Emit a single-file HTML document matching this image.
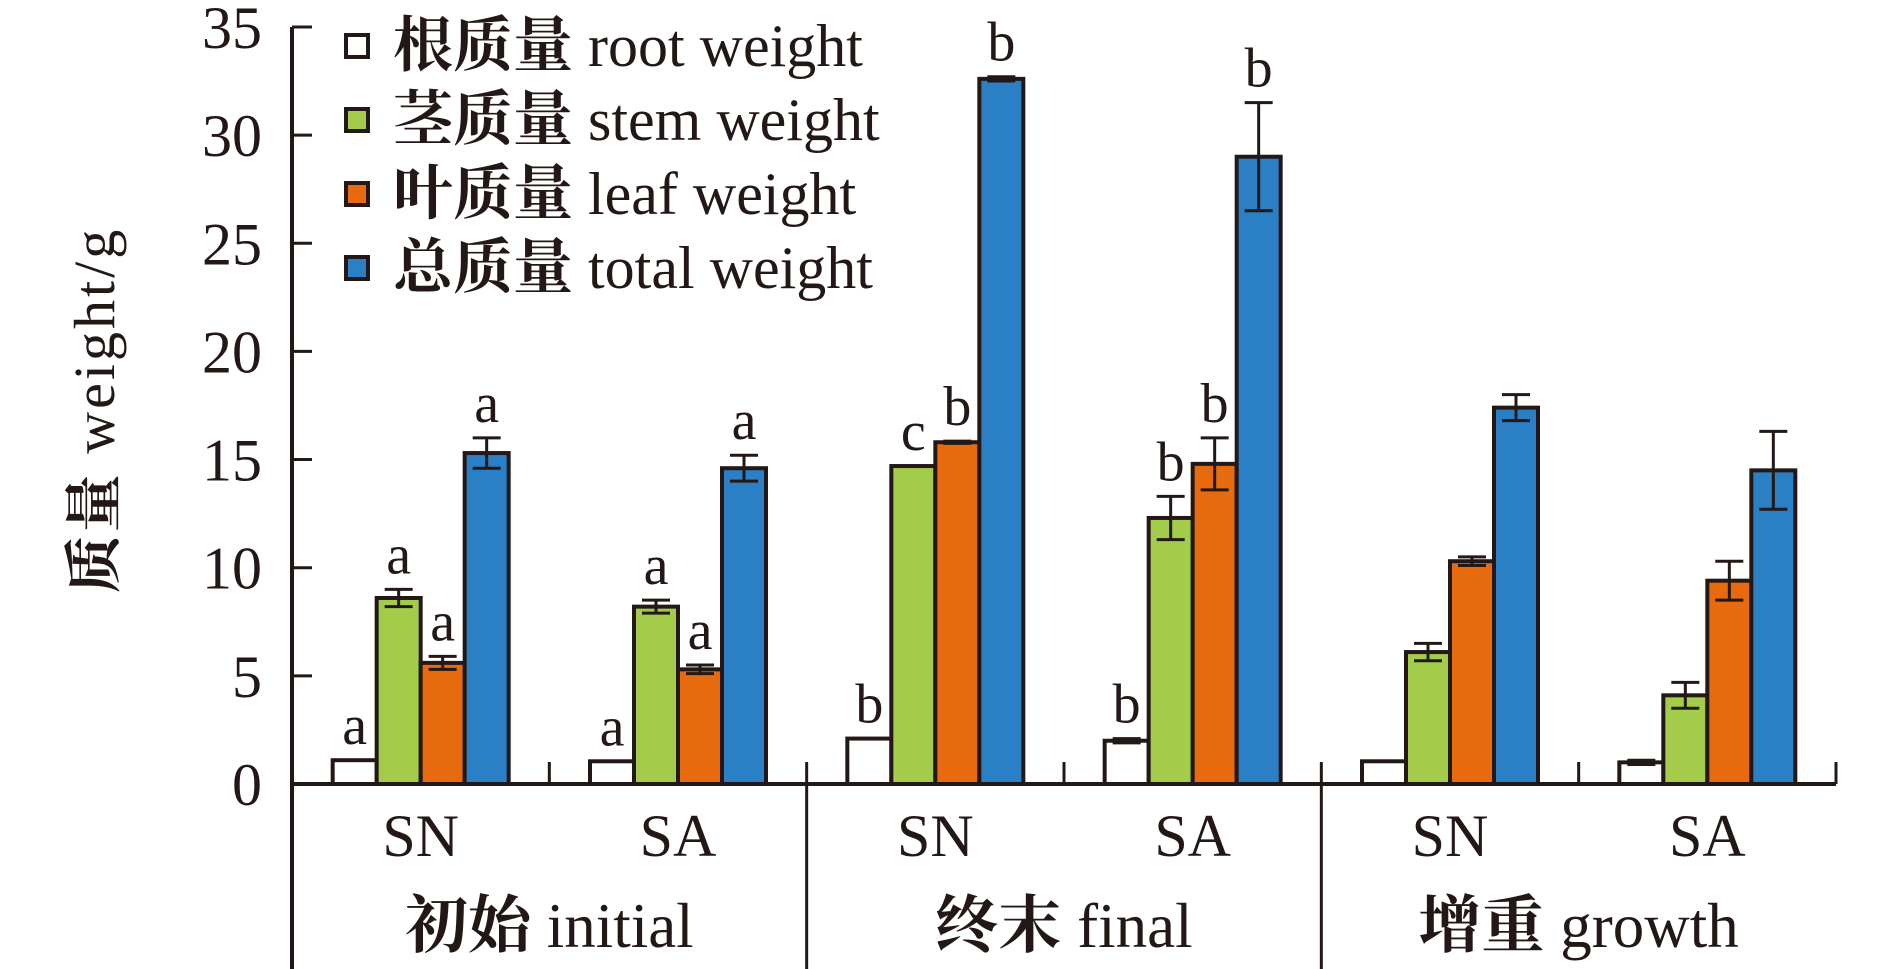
<!DOCTYPE html>
<html><head><meta charset="utf-8"><style>
html,body{margin:0;padding:0;background:#fff;}
svg{display:block;}
text{font-family:"Liberation Serif","Noto Serif CJK SC","Noto Sans CJK SC",serif;fill:#231815;}
.cjk{font-family:"Noto Serif CJK SC","Noto Sans CJK SC",serif;font-weight:bold;}
</style></head><body>
<svg id="chart" width="1890" height="969" viewBox="0 0 1890 969" xmlns="http://www.w3.org/2000/svg"></svg>
<script>
const groups = ["SN","SA","SN","SA","SN","SA"];
const sectionCjk = ["初始","终末","增重"];
const sectionEn = ["initial","final","growth"];
const seriesCjk = ["根质量","茎质量","叶质量","总质量"];
const seriesEn = ["root weight","stem weight","leaf weight","total weight"];
const rootVals  = [1.1, 1.05, 2.1, 2.0, 1.05, 1.0];
const stemVals  = [8.6, 8.2, 14.7, 12.3, 6.1, 4.1];
const leafVals  = [5.6, 5.3, 15.8, 14.8, 10.3, 9.4];
const totalVals = [15.3, 14.6, 32.6, 29.0, 17.4, 14.5];
const rootErr  = [0, 0, 0, 0.1, 0, 0.1];
const stemErr  = [0.4, 0.3, 0, 1.0, 0.4, 0.6];
const leafErr  = [0.3, 0.2, 0.05, 1.2, 0.2, 0.9];
const totalErr = [0.7, 0.6, 0.1, 2.5, 0.6, 1.8];
const rootLetters  = ["a","a","b","b","",""];
const stemLetters  = ["a","a","c","b","",""];
const leafLetters  = ["a","a","b","b","",""];
const totalLetters = ["a","a","b","b","",""];
const yTicks = [0,5,10,15,20,25,30,35];

const colors = ["#ffffff","#a3cc4a","#e86a0f","#2b7fc4"];
const vals = [rootVals,stemVals,leafVals,totalVals];
const errs = [rootErr,stemErr,leafErr,totalErr];
const lets = [rootLetters,stemLetters,leafLetters,totalLetters];
const keys = ["root","stem","leaf","total"];

const svg = document.getElementById('chart');
const NS = "http://www.w3.org/2000/svg";
const X0 = 292, X1 = 1836, Y0 = 784, PX = 21.63;
const slot = (X1 - X0) / groups.length;
const barW = 44;
function y(v){ return Y0 - v * PX; }
function gx(i){ return X0 + slot * (i + 0.5); }
function mk(tag, attrs, parent){
  const el = document.createElementNS(NS, tag);
  for (const k in attrs) el.setAttribute(k, attrs[k]);
  (parent || svg).appendChild(el);
  return el;
}
const ink = "#231815";

let el = mk('line',{x1:X0,y1:27,x2:X0,y2:969,stroke:ink,'stroke-width':4});


yTicks.forEach(t=>{
  const tk = mk('line',{x1:X0,y1:y(t),x2:X0+20,y2:y(t),stroke:ink,'stroke-width':3});
  
  
  const lb = mk('text',{x:262,y:y(t)+21,'text-anchor':'end','font-size':60});
  lb.textContent = t;
  
  
});
el = mk('line',{x1:X0,y1:Y0,x2:X1,y2:Y0,stroke:ink,'stroke-width':4});


for (let i=1;i<=groups.length;i++){
  const xx = X0 + slot*i;
  const long = (i===2||i===4);
  const tk = mk('line',{x1:xx,y1:Y0-22,x2:xx,y2:long?969:Y0,stroke:ink,'stroke-width':3});
  
  
}
el = mk('text',{x:0,y:0,'font-size':58,'text-anchor':'middle','letter-spacing':3,transform:'translate(114,410) rotate(-90)'});
el.innerHTML = '<tspan class="cjk">质量</tspan> weight/g';



groups.forEach((g,i)=>{
  const left = gx(i) - 2*barW;
  for (let s=0;s<4;s++){
    const v = vals[s][i], e = errs[s][i];
    const bx = left + s*barW;
    const r = mk('rect',{x:bx,y:y(v),width:barW,height:Y0-y(v),fill:colors[s],stroke:ink,'stroke-width':4});
    
    
    const cx = bx + barW/2;
    let top = y(v);
    if (e > 0){
      const eb = mk('path',{d:`M${cx},${y(v+e)}V${y(v-e)}M${cx-14},${y(v+e)}H${cx+14}M${cx-14},${y(v-e)}H${cx+14}`,stroke:ink,'stroke-width':3,fill:'none'});
      
      
      top = y(v+e);
    }
    const L = lets[s][i];
    if (L){
      const t = mk('text',{x:cx,y:top-16,'text-anchor':'middle','font-size':56});
      t.textContent = L;
      
      
    }
  }
  const gl = mk('text',{x:gx(i),y:856,'text-anchor':'middle','font-size':60});
  gl.textContent = g;
  
  
});
sectionCjk.forEach((s,k)=>{
  const t = mk('text',{x:X0+slot*(2*k+1),y:947,'text-anchor':'middle','font-size':63});
  t.innerHTML = '<tspan class="cjk">'+s+'</tspan> '+sectionEn[k];
  
  
});
seriesCjk.forEach((n,s)=>{
  const cy = 46 + s*74;
  const r = mk('rect',{x:346,y:cy-11,width:22,height:22,fill:colors[s],stroke:ink,'stroke-width':4});
  
  
  const t = mk('text',{x:393,y:cy+20,'font-size':60});
  t.innerHTML = '<tspan class="cjk">'+n+'</tspan> '+seriesEn[s];
  
  
});
</script>
</body></html>
